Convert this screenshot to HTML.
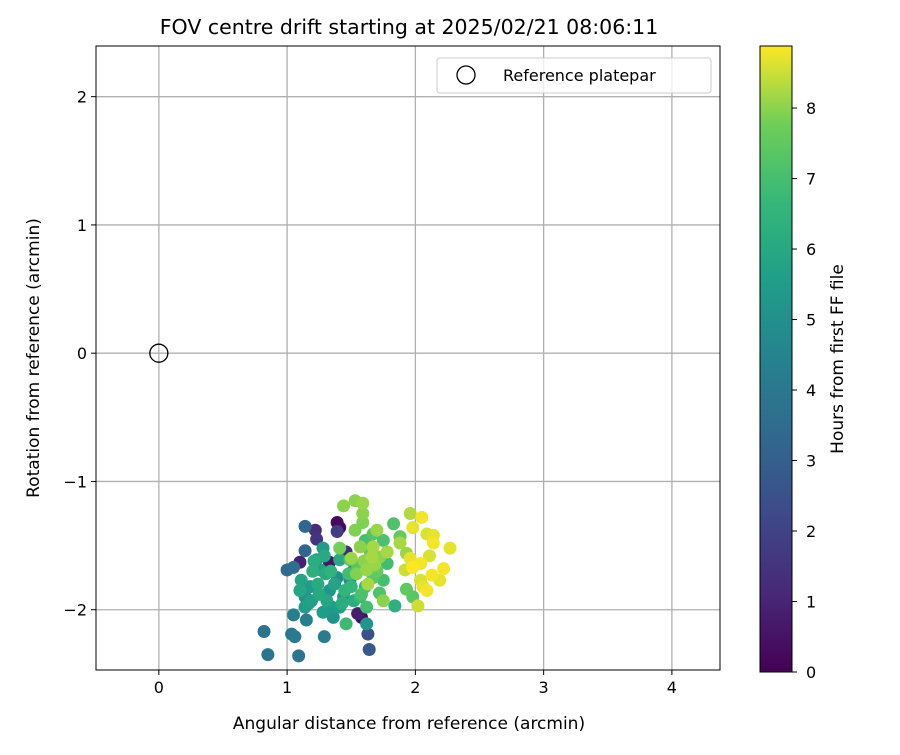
<!DOCTYPE html>
<html><head><meta charset="utf-8"><style>
body{margin:0;background:#fff}
svg{font-family:"DejaVu Sans","Liberation Sans",sans-serif}
</style></head><body>
<svg id="chart" width="900" height="750" xmlns="http://www.w3.org/2000/svg">
<defs><linearGradient id="vir" x1="0" y1="1" x2="0" y2="0">
<stop offset="0" stop-color="#440154"/><stop offset="0.125" stop-color="#482878"/><stop offset="0.25" stop-color="#3e4989"/><stop offset="0.375" stop-color="#31688e"/><stop offset="0.5" stop-color="#26828e"/><stop offset="0.625" stop-color="#1f9e89"/><stop offset="0.75" stop-color="#35b779"/><stop offset="0.875" stop-color="#6ece58"/><stop offset="1" stop-color="#fde725"/>
</linearGradient>
<clipPath id="clip"><rect x="96" y="46" width="624" height="624"/></clipPath></defs>
<text x="409" y="34" font-size="20.5" text-anchor="middle">FOV centre drift starting at 2025/02/21 08:06:11</text>
<g id="grid"></g>
<g id="pts" clip-path="url(#clip)"></g>
<rect x="96" y="46" width="624" height="624" fill="none" stroke="#000" stroke-width="1"/>
<g id="ticks"></g>
<text x="409" y="729" font-size="17" text-anchor="middle">Angular distance from reference (arcmin)</text>
<text transform="translate(39,358) rotate(-90)" font-size="17" text-anchor="middle">Rotation from reference (arcmin)</text>
<g>
<rect x="437" y="58" width="274" height="35" rx="3" fill="#fff" fill-opacity="0.8" stroke="#ccc"/>
<circle cx="466" cy="75" r="9" fill="none" stroke="#000" stroke-width="1.3"/>
<text x="503" y="81" font-size="16">Reference platepar</text>
</g>
<rect x="760" y="46" width="32" height="626" fill="url(#vir)" stroke="#000" stroke-width="1"/>
<g id="cbticks"></g>
<text transform="translate(843,359) rotate(-90)" font-size="17" text-anchor="middle">Hours from first FF file</text>
</svg>
<script>
const xTicks=[0,1,2,3,4];
const yTicks=[2,1,0,-1,-2];
const yTickLabels=["2","1","0","\u22121","\u22122"];
const cbTicks=[0,1,2,3,4,5,6,7,8];
const refPoint=[0,0];
const xs=[1.39,1.41,1.58,1.55,1.10,1.33,1.22,1.23,1.39,1.46,1.63,1.64,1.14,1.14,1.00,1.05,0.82,0.85,1.035,1.06,1.09,1.29,1.05,1.15,
1.28,1.23,1.11,1.18,1.14,1.26,1.33,1.39,1.44,1.49,1.28,1.36,1.41,1.46,1.62,1.52,1.31,1.19,1.41,1.24,1.35,1.10,1.14,1.52,
1.20,1.30,1.37,1.45,1.17,1.25,1.34,1.43,1.50,1.21,1.29,
1.41,1.49,1.61,1.67,1.75,1.78,1.67,1.61,1.72,1.84,1.93,1.98,1.83,1.88,1.62,1.57,1.75,1.55,1.65,1.70,1.48,1.58,
1.44,1.53,1.59,1.59,1.59,1.53,1.57,1.50,1.66,1.72,1.62,1.63,1.75,1.67,1.54,1.70,1.96,1.88,1.93,2.02,1.60,1.68,1.78,
2.05,1.98,2.09,2.14,2.14,2.11,2.27,2.22,2.19,2.04,1.98,2.06,2.09,2.04,1.96,1.92,2.13];
const ys=[-1.32,-1.36,-2.06,-2.03,-1.63,-1.63,-1.38,-1.45,-1.39,-1.55,-2.19,-2.31,-1.35,-1.54,-1.69,-1.67,-2.17,-2.35,-2.19,-2.21,-2.36,-2.21,-2.04,-2.08,
-1.52,-1.61,-1.77,-1.82,-1.90,-1.69,-1.85,-1.75,-1.90,-1.77,-2.02,-2.06,-1.98,-2.11,-2.11,-1.69,-1.93,-1.93,-1.61,-1.80,-1.98,-1.85,-1.98,-1.93,
-1.70,-1.72,-1.80,-1.85,-1.95,-1.88,-1.70,-1.95,-1.82,-1.62,-1.58,
-1.52,-1.61,-1.46,-1.41,-1.46,-1.64,-1.75,-1.82,-1.87,-1.97,-1.84,-1.90,-1.33,-1.43,-1.98,-1.90,-1.77,-1.66,-1.55,-1.70,-1.72,-1.88,
-1.19,-1.15,-1.17,-1.25,-1.32,-1.38,-1.51,-1.60,-1.59,-1.59,-1.69,-1.80,-1.93,-1.51,-1.72,-1.38,-1.25,-1.48,-1.56,-1.97,-1.62,-1.65,-1.55,
-1.28,-1.36,-1.41,-1.42,-1.48,-1.58,-1.52,-1.68,-1.77,-1.64,-1.67,-1.82,-1.85,-1.77,-1.60,-1.69,-1.73];
const hours=[0.3,0.2,0.4,0.8,0.9,0.6,1.3,1.5,1.8,1.2,2.5,2.8,3.3,3.2,3.5,3.6,3.8,3.9,4.0,4.1,3.9,4.2,4.4,4.3,
5.5,5.6,5.8,5.4,5.0,5.7,5.2,4.9,5.3,5.0,5.5,5.1,5.6,6.8,5.2,4.8,5.9,5.7,6.0,6.1,5.4,5.9,5.5,6.2,
6.3,6.1,5.8,6.5,5.6,6.0,6.4,6.2,6.6,6.2,6.0,
7.8,7.2,7.0,7.3,7.1,6.9,7.4,6.8,7.2,6.3,7.5,7.4,7.2,7.6,7.0,6.7,7.0,7.3,7.5,7.6,6.9,7.1,
8.0,8.0,8.1,8.0,7.9,7.9,8.0,8.1,8.2,8.0,8.1,8.2,8.0,8.2,7.9,8.1,8.3,8.2,8.1,8.5,8.0,8.1,8.2,
8.8,8.7,8.6,8.7,8.8,8.6,8.7,8.8,8.7,8.8,8.9,8.7,8.8,8.6,8.7,8.5,8.8];
const X0=96,X1=720,Y0=46,Y1=670,xmin=-0.49,xmax=4.375,ymin=-2.47,ymax=2.395,tmax=8.88;
const sx=v=>X0+(v-xmin)/(xmax-xmin)*(X1-X0);
const sy=v=>Y1-(v-ymin)/(ymax-ymin)*(Y1-Y0);
const cy=v=>672-v/tmax*626;
const stops=[[68,1,84],[72,40,120],[62,73,137],[49,104,142],[38,130,142],[31,158,137],[53,183,121],[110,206,88],[253,231,37]];
function vir(t){let f=Math.max(0,Math.min(1,t/tmax))*8,i=Math.min(7,Math.floor(f)),r=f-i;const a=stops[i],b=stops[i+1];return 'rgb('+a.map((c,k)=>Math.round(c+(b[k]-c)*r)).join(',')+')';}
const NS='http://www.w3.org/2000/svg';
function mk(tag,at,parent){const e=document.createElementNS(NS,tag);for(const k in at)e.setAttribute(k,at[k]);document.getElementById(parent).appendChild(e);return e;}
xTicks.forEach(v=>{const x=sx(v);
const g=mk('line',{x1:x,x2:x,y1:Y0,y2:Y1,stroke:'#b0b0b0','stroke-width':1.3},'grid');


const t=mk('line',{x1:x,x2:x,y1:Y1,y2:Y1+5,stroke:'#000'},'ticks');


const l=mk('text',{x:x,y:Y1+23,'font-size':16,'text-anchor':'middle'},'ticks');l.textContent=String(v);

});
yTicks.forEach((v,i)=>{const y=sy(v);
const g=mk('line',{x1:X0,x2:X1,y1:y,y2:y,stroke:'#b0b0b0','stroke-width':1.3},'grid');


const t=mk('line',{x1:X0-5,x2:X0,y1:y,y2:y,stroke:'#000'},'ticks');


const l=mk('text',{x:X0-9,y:y+6,'font-size':16,'text-anchor':'end'},'ticks');l.textContent=yTickLabels[i];

});
cbTicks.forEach(v=>{const y=cy(v);
const t=mk('line',{x1:792,x2:797,y1:y,y2:y,stroke:'#000'},'cbticks');


const l=mk('text',{x:806,y:y+6,'font-size':16},'cbticks');l.textContent=String(v);

});
const idx=hours.map((h,i)=>i).sort((a,b)=>hours[a]-hours[b]);
idx.forEach(i=>{const c=mk('circle',{cx:sx(xs[i]),cy:sy(ys[i]),r:6.5,fill:vir(hours[i])},'pts');

});
const rp=mk('circle',{cx:sx(refPoint[0]),cy:sy(refPoint[1]),r:9,fill:'none',stroke:'#000','stroke-width':1.3},'pts');


</script>
</body></html>
